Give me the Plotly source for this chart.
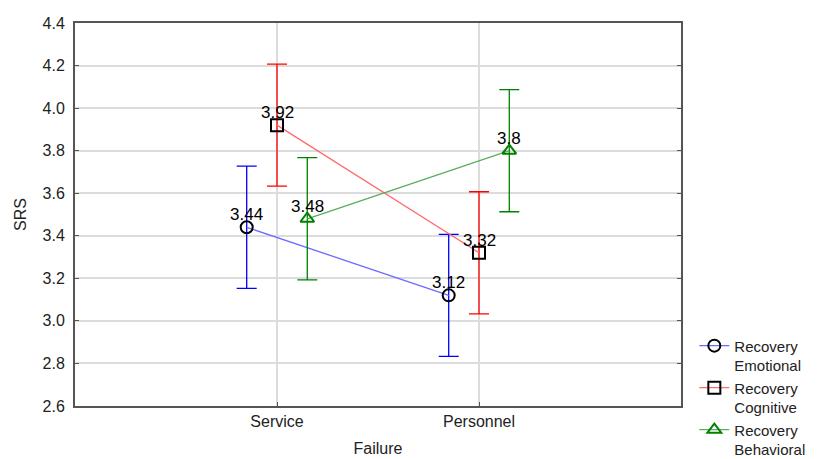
import plotly.graph_objects as go

# Interaction plot: SRS by failure type for three recovery strategies
categories = ["Service", "Personnel"]
series_names = ["Recovery<br>Emotional", "Recovery<br>Cognitive", "Recovery<br>Behavioral"]
emotional = [3.44, 3.12]
cognitive = [3.92, 3.32]
behavioral = [3.48, 3.80]
emotional_err = [0.287, 0.287]
cognitive_err = [0.287, 0.287]
behavioral_err = [0.287, 0.287]
value_labels = [["3.44", "3.12"], ["3.92", "3.32"], ["3.48", "3.8"]]

y_ticks = [2.6, 2.8, 3.0, 3.2, 3.4, 3.6, 3.8, 4.0, 4.2, 4.4]

series = [
    (emotional, emotional_err, "#0000ff", "#6a6aff", "circle-open", "black", -0.15),
    (cognitive, cognitive_err, "#ff0000", "#ff6a6a", "square-open", "black", 0.0),
    (behavioral, behavioral_err, "#008000", "#5aae5a", "triangle-up-open", "#008000", 0.15),
]

fig = go.Figure()
for i, (vals, err, col, lcol, sym, mcol, off) in enumerate(series):
    xs = [k + off for k in range(len(categories))]
    fig.add_trace(go.Scatter(
        x=xs, y=vals,
        mode="lines+markers",
        name=series_names[i],
        line=dict(color=lcol, width=1.3),
        marker=dict(symbol=sym, size=12, color=mcol, line=dict(color=mcol, width=2)),
        error_y=dict(type="data", array=err, visible=True, color=col, thickness=1.3, width=10),
        cliponaxis=False,
    ))
    # value labels sitting just over each mean marker
    for x, y, lab in zip(xs, vals, value_labels[i]):
        fig.add_annotation(
            x=x, y=y, text=lab, showarrow=False,
            xanchor="center", yanchor="bottom", yshift=1,
            font=dict(family="Liberation Sans, Arial", size=17, color="black"),
        )

axis_font = dict(family="Liberation Sans, Arial", size=16, color="#222")

fig.update_layout(
    width=820, height=459,
    margin=dict(l=75, r=139, t=23, b=53, autoexpand=False),
    paper_bgcolor="white", plot_bgcolor="white",
    font=axis_font,
    showlegend=True,
    legend=dict(
        x=1.022, xanchor="left", y=0.2, yanchor="top",
        font=dict(family="Liberation Sans, Arial", size=15, color="#222"),
        valign="top", tracegroupgap=0, itemwidth=30,
        bgcolor="rgba(0,0,0,0)",
    ),
    xaxis=dict(
        range=[-1, 2],
        tickmode="array", tickvals=list(range(len(categories))), ticktext=categories,
        showgrid=True, gridcolor="#dcdcdc", gridwidth=2,
        showline=True, linecolor="#555", linewidth=2, mirror=True,
        ticks="inside", ticklen=4, tickcolor="#555",
        zeroline=False,
        title=dict(text="Failure", font=axis_font, standoff=14),
        tickfont=axis_font,
    ),
    yaxis=dict(
        range=[2.6, 4.4],
        tickmode="array", tickvals=y_ticks, ticktext=[f"{v:.1f}" for v in y_ticks],
        showgrid=True, gridcolor="#dcdcdc", gridwidth=2,
        showline=True, linecolor="#555", linewidth=2, mirror="ticks",
        ticks="inside", ticklen=4, tickcolor="#555",
        ticklabelstandoff=5,
        zeroline=False,
        title=dict(text="SRS", font=axis_font, standoff=12),
        tickfont=axis_font,
    ),
)

fig.write_html("out.html")
